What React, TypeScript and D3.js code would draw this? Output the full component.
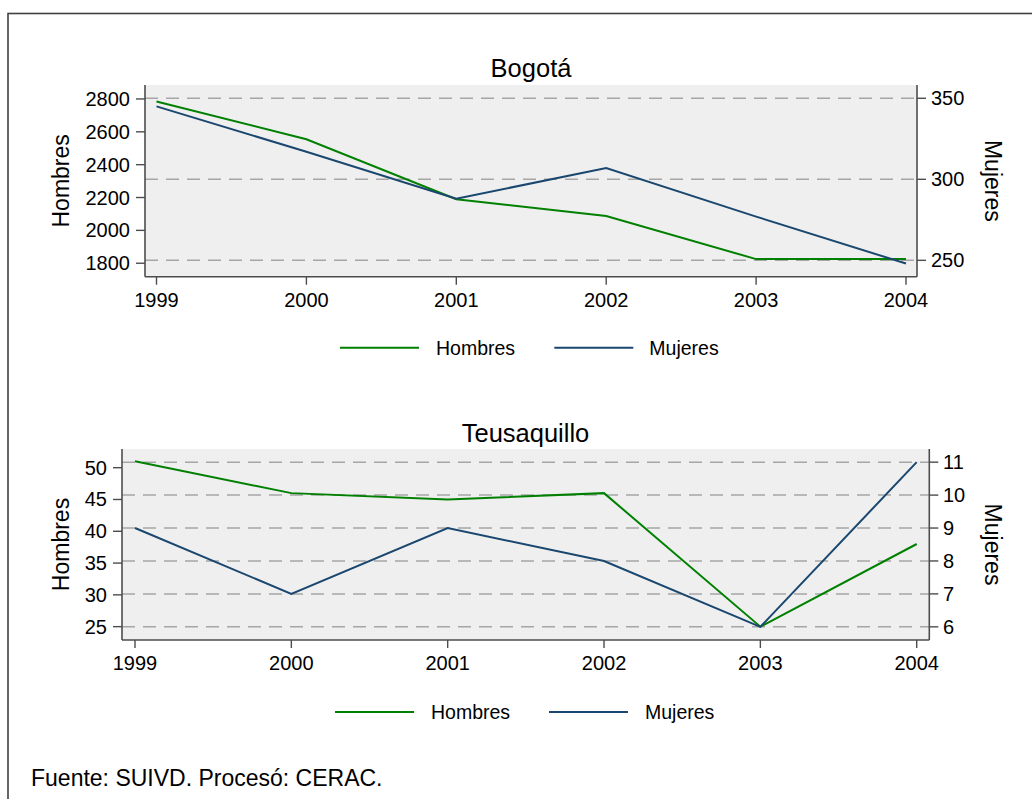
import React from "react";
import * as d3 from "d3";

const years = [1999, 2000, 2001, 2002, 2003, 2004];

const bogotaHombres = [2785, 2555, 2190, 2088, 1825, 1825];
const bogotaMujeres = [345, 317, 288, 307, 277, 248];
const bogotaLeftTicks = [1800, 2000, 2200, 2400, 2600, 2800];
const bogotaRightTicks = [250, 300, 350];

const teusaHombres = [51, 46, 45, 46, 25, 38];
const teusaMujeres = [9, 7, 9, 8, 6, 11];
const teusaLeftTicks = [25, 30, 35, 40, 45, 50];
const teusaRightTicks = [6, 7, 8, 9, 10, 11];

const seriesNames = ["Hombres", "Mujeres"];
const footerText = "Fuente: SUIVD. Procesó: CERAC.";

const GREEN = "#008000";
const NAVY = "#1a476f";
const AXIS = "#4d4d4d";
const GRID = "#a6a6a6";
const FONT = "'Liberation Sans', Arial, Helvetica, sans-serif";

type PanelProps = {
  title: string;
  hombres: number[];
  mujeres: number[];
  leftTicks: number[];
  rightTicks: number[];
  leftDomain: [number, number];
  rightDomain: [number, number];
  box: { x0: number; x1: number; y0: number; y1: number };
  xRange: [number, number];
  titleX: number;
  titleY: number;
  leftLabelX: number;
  rightLabelX: number;
  xLabelY: number;
  yTitleLeftX: number;
  yTitleRightX: number;
  legend: { y: number; l1: number; t1: number; l2: number; t2: number };
};

function Panel(p: PanelProps) {
  const x = d3.scaleLinear().domain([years[0], years[years.length - 1]]).range(p.xRange);
  const yL = d3.scaleLinear().domain(p.leftDomain).range([p.box.y1, p.box.y0]);
  const yR = d3.scaleLinear().domain(p.rightDomain).range([p.box.y1, p.box.y0]);
  const lineL = d3.line<number>().x((_, i) => x(years[i])).y((d) => yL(d));
  const lineR = d3.line<number>().x((_, i) => x(years[i])).y((d) => yR(d));
  const { x0, x1, y0, y1 } = p.box;
  const cy = (y0 + y1) / 2;
  const tickFs = 20;
  return (
    <g fontFamily={FONT}>
      <text x={p.titleX} y={p.titleY} textAnchor="middle" fontSize={25.5} fill="#000">
        {p.title}
      </text>
      <rect x={x0} y={y0} width={x1 - x0} height={y1 - y0} fill="#efefef" />
      {p.rightTicks.map((t) => (
        <line
          key={"g" + t}
          x1={x0}
          x2={x1}
          y1={yR(t)}
          y2={yR(t)}
          stroke={GRID}
          strokeWidth={1.5}
          strokeDasharray="13,8"
        />
      ))}
      <path d={lineL(p.hombres) || ""} fill="none" stroke={GREEN} strokeWidth={2} />
      <path d={lineR(p.mujeres) || ""} fill="none" stroke={NAVY} strokeWidth={2} />
      <line x1={x0} x2={x0} y1={y0} y2={y1} stroke={AXIS} strokeWidth={1.6} />
      <line x1={x1} x2={x1} y1={y0} y2={y1} stroke={AXIS} strokeWidth={1.6} />
      <line x1={x0} x2={x1} y1={y1} y2={y1} stroke={AXIS} strokeWidth={1.6} />
      {p.leftTicks.map((t) => (
        <g key={"l" + t}>
          <line x1={x0 - 9} x2={x0} y1={yL(t)} y2={yL(t)} stroke={AXIS} strokeWidth={1.4} />
          <text x={p.leftLabelX} y={yL(t)} dy="0.35em" textAnchor="end" fontSize={tickFs}>
            {t}
          </text>
        </g>
      ))}
      {p.rightTicks.map((t) => (
        <g key={"r" + t}>
          <line x1={x1} x2={x1 + 9} y1={yR(t)} y2={yR(t)} stroke={AXIS} strokeWidth={1.4} />
          <text x={p.rightLabelX} y={yR(t)} dy="0.35em" textAnchor="start" fontSize={tickFs}>
            {t}
          </text>
        </g>
      ))}
      {years.map((yr) => (
        <g key={"x" + yr}>
          <line x1={x(yr)} x2={x(yr)} y1={y1} y2={y1 + 8} stroke={AXIS} strokeWidth={1.4} />
          <text x={x(yr)} y={p.xLabelY} textAnchor="middle" fontSize={tickFs}>
            {yr}
          </text>
        </g>
      ))}
      <text
        transform={`translate(${p.yTitleLeftX},${cy}) rotate(-90)`}
        textAnchor="middle"
        fontSize={23}
      >
        {seriesNames[0]}
      </text>
      <text
        transform={`translate(${p.yTitleRightX},${cy}) rotate(90)`}
        textAnchor="middle"
        fontSize={23}
      >
        {seriesNames[1]}
      </text>
      <line x1={p.legend.l1} x2={p.legend.l1 + 79} y1={p.legend.y} y2={p.legend.y} stroke={GREEN} strokeWidth={2} />
      <text x={p.legend.t1} y={p.legend.y} dy="0.35em" fontSize={19.5}>
        {seriesNames[0]}
      </text>
      <line x1={p.legend.l2} x2={p.legend.l2 + 79} y1={p.legend.y} y2={p.legend.y} stroke={NAVY} strokeWidth={2} />
      <text x={p.legend.t2} y={p.legend.y} dy="0.35em" fontSize={19.5}>
        {seriesNames[1]}
      </text>
    </g>
  );
}

export default function App() {
  return (
    <svg
      width={1032}
      height={799}
      style={{ position: "absolute", left: 0, top: 0, background: "#fff" }}
    >
      <rect x={0} y={0} width={1032} height={799} fill="#fff" />
      <rect x={8} y={13.5} width={1100} height={900} fill="none" stroke="#404040" strokeWidth={1.6} />
      <Panel
        title="Bogotá"
        hombres={bogotaHombres}
        mujeres={bogotaMujeres}
        leftTicks={bogotaLeftTicks}
        rightTicks={bogotaRightTicks}
        leftDomain={[1718, 2885]}
        rightDomain={[239.9, 358.2]}
        box={{ x0: 145, x1: 917, y0: 85, y1: 276.7 }}
        xRange={[156.5, 906]}
        titleX={531}
        titleY={77}
        leftLabelX={130}
        rightLabelX={931}
        xLabelY={307}
        yTitleLeftX={69}
        yTitleRightX={985}
        legend={{ y: 347.7, l1: 340, t1: 436, l2: 554.3, t2: 649.3 }}
      />
      <Panel
        title="Teusaquillo"
        hombres={teusaHombres}
        mujeres={teusaMujeres}
        leftTicks={teusaLeftTicks}
        rightTicks={teusaRightTicks}
        leftDomain={[22.9, 52.94]}
        rightDomain={[5.6, 11.4]}
        box={{ x0: 122, x1: 929.3, y0: 449, y1: 640 }}
        xRange={[135, 916.7]}
        titleX={525.5}
        titleY={442}
        leftLabelX={107}
        rightLabelX={943}
        xLabelY={670}
        yTitleLeftX={69}
        yTitleRightX={985}
        legend={{ y: 712, l1: 335, t1: 431, l2: 549, t2: 645 }}
      />
      <text x={31} y={786} fontFamily={FONT} fontSize={23}>
        {footerText}
      </text>
    </svg>
  );
}
